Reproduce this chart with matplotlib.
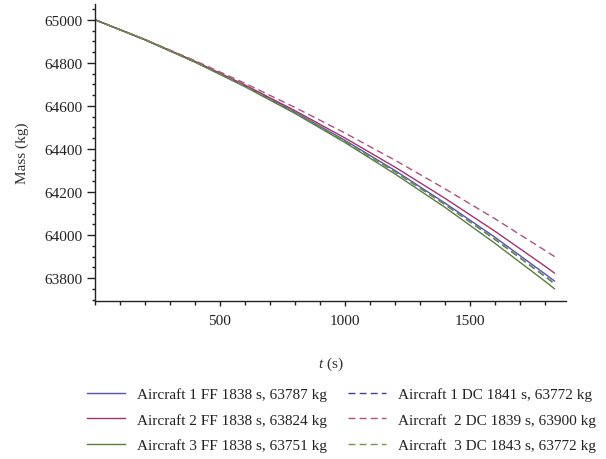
import numpy as np
import matplotlib
matplotlib.use("Agg")
import matplotlib.pyplot as plt
from matplotlib.ticker import MultipleLocator

plt.rcParams['font.family'] = ['Liberation Serif', 'DejaVu Serif']
plt.rcParams['mathtext.fontset'] = 'custom'
plt.rcParams['mathtext.rm'] = 'Liberation Serif'
plt.rcParams['mathtext.it'] = 'Liberation Serif:italic'

# time samples (s) and aircraft mass (kg)
t_ff = [0, 200, 400, 600, 800, 1000, 1200, 1400, 1600, 1800, 1838]
m_ff1 = [65000, 64907, 64805, 64693, 64571, 64440, 64300, 64149, 63990, 63820, 63787]
m_ff2 = [65000, 64908, 64807, 64697, 64578, 64451, 64316, 64171, 64018, 63856, 63824]
m_ff3 = [65000, 64907, 64803, 64689, 64565, 64430, 64284, 64129, 63962, 63786, 63751]

t_dc1 = [0, 200, 400, 600, 800, 1000, 1200, 1400, 1600, 1800, 1841]
m_dc1 = [65000, 64907, 64804, 64692, 64569, 64437, 64294, 64142, 63980, 63808, 63772]
t_dc2 = [0, 200, 400, 600, 800, 1000, 1200, 1400, 1600, 1800, 1839]
m_dc2 = [65000, 64909, 64810, 64705, 64593, 64474, 64348, 64215, 64076, 63929, 63900]
t_dc3 = [0, 200, 400, 600, 800, 1000, 1200, 1400, 1600, 1800, 1843]
m_dc3 = [65000, 64907, 64804, 64692, 64569, 64437, 64295, 64143, 63982, 63810, 63772]

labels = ['Aircraft 1 FF 1838 s, 63787 kg',
          'Aircraft 2 FF 1838 s, 63824 kg',
          'Aircraft 3 FF 1838 s, 63751 kg',
          'Aircraft 1 DC 1841 s, 63772 kg',
          'Aircraft  2 DC 1839 s, 63900 kg',
          'Aircraft  3 DC 1843 s, 63772 kg']

c1, c2, c3 = '#5650c0', '#a3336e', '#5b7d3e'
c1d, c2d, c3d = '#464090', '#b04f80', '#6c9a48'

fig = plt.figure(figsize=(6.06, 4.6), dpi=100)
ax = fig.add_axes([0.1568, 0.344, 0.777, 0.645])

ax.plot(t_ff, m_ff1, color=c1, lw=1.0, label=labels[0])
ax.plot(t_ff, m_ff2, color=c2, lw=1.0, label=labels[1])
ax.plot(t_ff, m_ff3, color=c3, lw=1.0, label=labels[2])
ax.plot(t_dc1, m_dc1, color=c1d, lw=1.0, ls=(0, (5, 3)), label=labels[3])
ax.plot(t_dc2, m_dc2, color=c2d, lw=1.0, ls=(0, (5, 3)), label=labels[4])
ax.plot(t_dc3, m_dc3, color=c3d, lw=1.0, ls=(0, (5, 3)), label=labels[5])

ax.set_xlim(0, 1884)
ax.set_ylim(63695, 65073)
ax.xaxis.set_major_locator(MultipleLocator(500))
ax.xaxis.set_minor_locator(MultipleLocator(100))
ax.yaxis.set_major_locator(MultipleLocator(200))
ax.yaxis.set_minor_locator(MultipleLocator(50))
ax.set_xticks([500, 1000, 1500])

for s in ['top', 'right']:
    ax.spines[s].set_visible(False)
for s in ['left', 'bottom']:
    ax.spines[s].set_linewidth(1.0)
    ax.spines[s].set_color('#222222')

ax.tick_params(axis='both', which='both', direction='out', colors='#222222',
               labelsize=11, width=1.0)
ax.tick_params(axis='y', which='major', length=5.5, pad=3.5)
ax.tick_params(axis='y', which='minor', length=2.5)
ax.tick_params(axis='x', which='major', length=3.5, pad=6)
ax.tick_params(axis='x', which='minor', length=3.0)

ax.set_ylabel('Mass (kg)', fontsize=11, color='#333333')
ax.yaxis.set_label_coords(-0.14, 0.5)
ax.set_xlabel('$t$ (s)', fontsize=11, color='#333333')
ax.xaxis.set_label_coords(0.5, -0.18)

fig.legend(loc='upper left', bbox_to_anchor=(0.1436, 0.156), ncol=2,
           frameon=False, fontsize=11, handlelength=2.5, handletextpad=0.75,
           columnspacing=1.4, labelspacing=0.78, borderpad=0, borderaxespad=0,
           labelcolor='#222222')

fig.savefig('out.png', dpi=100)
